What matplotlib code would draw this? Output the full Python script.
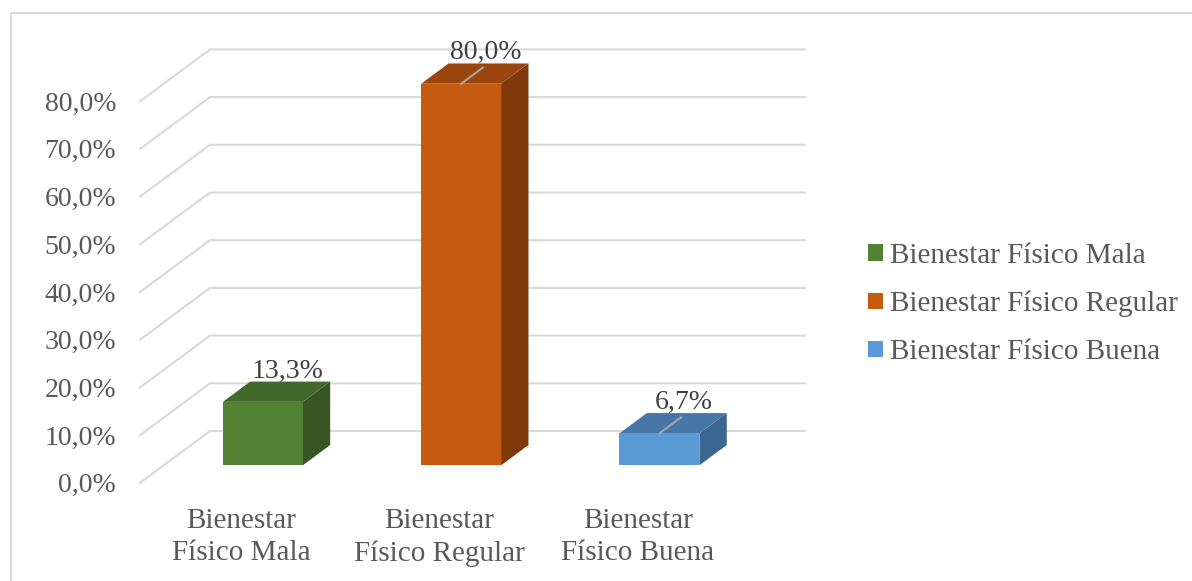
import matplotlib.pyplot as plt
from matplotlib.patches import Polygon, Patch, Rectangle

# data
categories = ["Bienestar\nFísico Mala", "Bienestar\nFísico Regular", "Bienestar\nFísico Buena"]
legend_names = ["Bienestar Físico Mala", "Bienestar Físico Regular", "Bienestar Físico Buena"]
values = [13.3, 80.0, 6.7]
value_labels = ["13,3%", "80,0%", "6,7%"]
ticks = [0, 10, 20, 30, 40, 50, 60, 70, 80]
tick_labels = ["0,0%", "10,0%", "20,0%", "30,0%", "40,0%", "50,0%", "60,0%", "70,0%", "80,0%"]
show_leader = [False, True, True]

front_col = ["#548235", "#c55a11", "#5b9bd5"]
top_col = ["#43682b", "#9a450e", "#4677a6"]
side_col = ["#375623", "#7f390b", "#3c6691"]

plt.rcParams['font.family'] = ['Liberation Serif', 'DejaVu Serif']
txt_col = "#595959"
grid_col = "#d9d9d9"
fs = 21

# oblique 3d geometry (depth offsets in data units)
DX = 0.354
DY = 10.9
d1, d2 = 0.34, 0.73
w = 0.403

def proj(x, v, d):
    return (x + d * DX, v + d * DY)

fig = plt.figure(figsize=(11.92, 5.81), dpi=100)
ax = fig.add_axes([0, 0, 1, 1])
ax.set_xlim(-1.205, 4.806)
ax.set_ylim(-20.55, 101.26)
ax.axis("off")

# chart border
fig.patches.append(Rectangle((11 / 1192, -0.1), 1.2, 1 - 13 / 581 + 0.1, transform=fig.transFigure,
                             fill=False, edgecolor=grid_col, lw=1.5))

# gridlines on side and back wall
x0, x1 = -0.5, 2.5
for v, lab in zip(ticks, tick_labels):
    a = proj(x0, v, 0)
    b = proj(x0, v, 1)
    c = proj(x1, v, 1)
    ax.plot([a[0], b[0], c[0]], [a[1], b[1], c[1]], color=grid_col, lw=1.5, zorder=1)
    ax.annotate(lab, xy=a, xytext=(-17, -2), textcoords="offset points",
                ha="right", va="center", fontsize=fs - 1, color=txt_col)

# bars
for i, v in enumerate(values):
    l, r = i - w / 2, i + w / 2
    front = [proj(l, 0, d1), proj(r, 0, d1), proj(r, v, d1), proj(l, v, d1)]
    top = [proj(l, v, d1), proj(r, v, d1), proj(r, v, d2), proj(l, v, d2)]
    side = [proj(r, 0, d1), proj(r, 0, d2), proj(r, v, d2), proj(r, v, d1)]
    ax.add_patch(Polygon(side, closed=True, facecolor=side_col[i], edgecolor="none", zorder=3))
    ax.add_patch(Polygon(top, closed=True, facecolor=top_col[i], edgecolor="none", zorder=3))
    ax.add_patch(Polygon(front, closed=True, facecolor=front_col[i], edgecolor="none", zorder=4))
    if show_leader[i]:
        p = proj(i, v, d1)
        q = proj(i, v, d1 + 0.31)
        ax.plot([p[0], q[0]], [p[1], q[1]], color="#a6a6a6", lw=1.5, zorder=5)
    ax.annotate(value_labels[i], xy=proj(i - 0.015, v, d2), xytext=(0, 3), textcoords="offset points",
                ha="center", va="baseline", fontsize=fs - 1, color="#404040", zorder=6)

# category labels
for i, cat in enumerate(categories):
    ax.annotate(cat, xy=(i, 0), xytext=(1.5, -18), textcoords="offset points",
                ha="center", va="top", fontsize=fs, color=txt_col, linespacing=1.3)

handles = [Patch(facecolor=c, edgecolor="none") for c in front_col]
ax.legend(handles, legend_names, loc="center left", bbox_to_anchor=(868 / 1192, 1 - 304 / 581),
          frameon=False, fontsize=fs, labelcolor=txt_col, handlelength=0.5, handleheight=0.5,
          handletextpad=0.25, labelspacing=0.76, borderpad=0, borderaxespad=0)

plt.savefig("out.png", dpi=100)
